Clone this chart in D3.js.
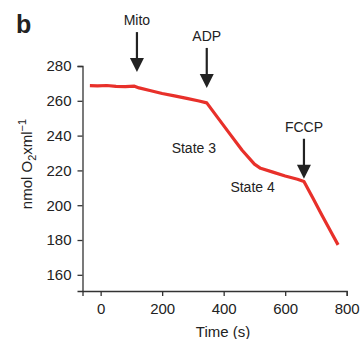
<!DOCTYPE html>
<html>
<head>
<meta charset="utf-8">
<script src="https://cdn.jsdelivr.net/npm/d3@7"></script>
<style>
  body { margin: 0; background: #fff; }
  svg text { font-family: "Liberation Sans", Arial, sans-serif; fill: #222; }
</style>
</head>
<body>
<svg class="chart"></svg>
<script>
// trace: time (s), O2 (nmol/ml)
var times = [-35, -10, 20, 50, 80, 110, 125, 160, 200, 240, 280, 320, 345,
             380, 420, 460, 500, 520, 560, 600, 640, 661, 690, 720, 750, 772];
var oxygen = [268.7, 268.6, 268.8, 268.3, 268.2, 268.4, 267.4, 265.9, 264.2, 262.8, 261.4, 259.9, 258.8,
              250.5, 241.0, 231.6, 223.6, 221.2, 219.0, 216.8, 214.9, 213.6, 204.2, 194.1, 184.3, 177.2];
var xTicks = [0, 200, 400, 600, 800];
var yTicks = [160, 180, 200, 220, 240, 260, 280];
var arrowNames = ['Mito', 'ADP', 'FCCP'];
var arrowTimes = [118, 345, 661];
var arrowTips = [276.5, 267.4, 215.2];
var stateNames = ['State 3', 'State 4'];
var stateTimes = [303, 494];
var stateVals = [230, 207.6];

var width = 361, height = 339;
var svg = d3.select('svg.chart').attr('width', width).attr('height', height);

var x = d3.scaleLinear().domain([-59, 800]).range([82.5, 346.7]);
var y = d3.scaleLinear().domain([150.7, 280]).range([291, 66]);

var xAxis = svg.append('g').attr('transform', 'translate(0,291)')
  .call(d3.axisBottom(x).tickValues(xTicks).tickSizeOuter(0).tickSize(5).tickPadding(7));
var yAxis = svg.append('g').attr('transform', 'translate(82.5,0)')
  .call(d3.axisLeft(y).tickValues(yTicks).tickSizeOuter(0).tickSize(5).tickPadding(6));

[xAxis, yAxis].forEach(function(a) {
  a.selectAll('path, line').attr('stroke', '#333').attr('stroke-width', 1.3);
  a.selectAll('text').style('font-size', '15px').style('fill', '#222')
    .style('font-family', '"Liberation Sans", Arial, sans-serif');
});

var pts = times.map((t, i) => [t, oxygen[i]]);
var line = d3.line().x(d => x(d[0])).y(d => y(d[1]));
svg.append('path').datum(pts)
  .attr('d', line)
  .attr('fill', 'none')
  .attr('stroke', '#e8302a')
  .attr('stroke-width', 3.2)
  .attr('stroke-linejoin', 'round');

// arrows
arrowNames.forEach(function(name, i) {
  var cx = x(arrowTimes[i]), tip = y(arrowTips[i]);
  svg.append('line')
    .attr('x1', cx).attr('x2', cx)
    .attr('y1', tip - 40).attr('y2', tip - 12)
    .attr('stroke', '#222').attr('stroke-width', 2.2);
  svg.append('path')
    .attr('d', 'M' + (cx - 7) + ',' + (tip - 14) + 'L' + (cx + 7) + ',' + (tip - 14) + 'L' + cx + ',' + tip + 'Z')
    .attr('fill', '#222');
  svg.append('text')
    .attr('x', cx).attr('y', tip - 47)
    .attr('text-anchor', 'middle')
    .style('font-size', '14px')
    .text(name);
});

stateNames.forEach(function(name, i) {
  svg.append('text')
    .attr('x', x(stateTimes[i])).attr('y', y(stateVals[i]))
    .attr('text-anchor', 'middle')
    .style('font-size', '14px')
    .text(name);
});

// axis titles
svg.append('text')
  .attr('x', 223).attr('y', 337)
  .attr('text-anchor', 'middle')
  .style('font-size', '15px')
  .text('Time (s)');

var yl = svg.append('text')
  .attr('transform', 'translate(32,164) rotate(-90)')
  .attr('text-anchor', 'middle')
  .style('font-size', '15px');
yl.append('tspan').text('nmol O');
yl.append('tspan').attr('dy', 4).style('font-size', '11px').text('2');
yl.append('tspan').attr('dy', -4).text('xml');
yl.append('tspan').attr('dy', -6).style('font-size', '11px').text('\u22121');

svg.append('text')
  .attr('x', 16).attr('y', 33)
  .style('font-size', '25px').style('font-weight', 'bold')
  .text('b');
</script>
</body>
</html>
